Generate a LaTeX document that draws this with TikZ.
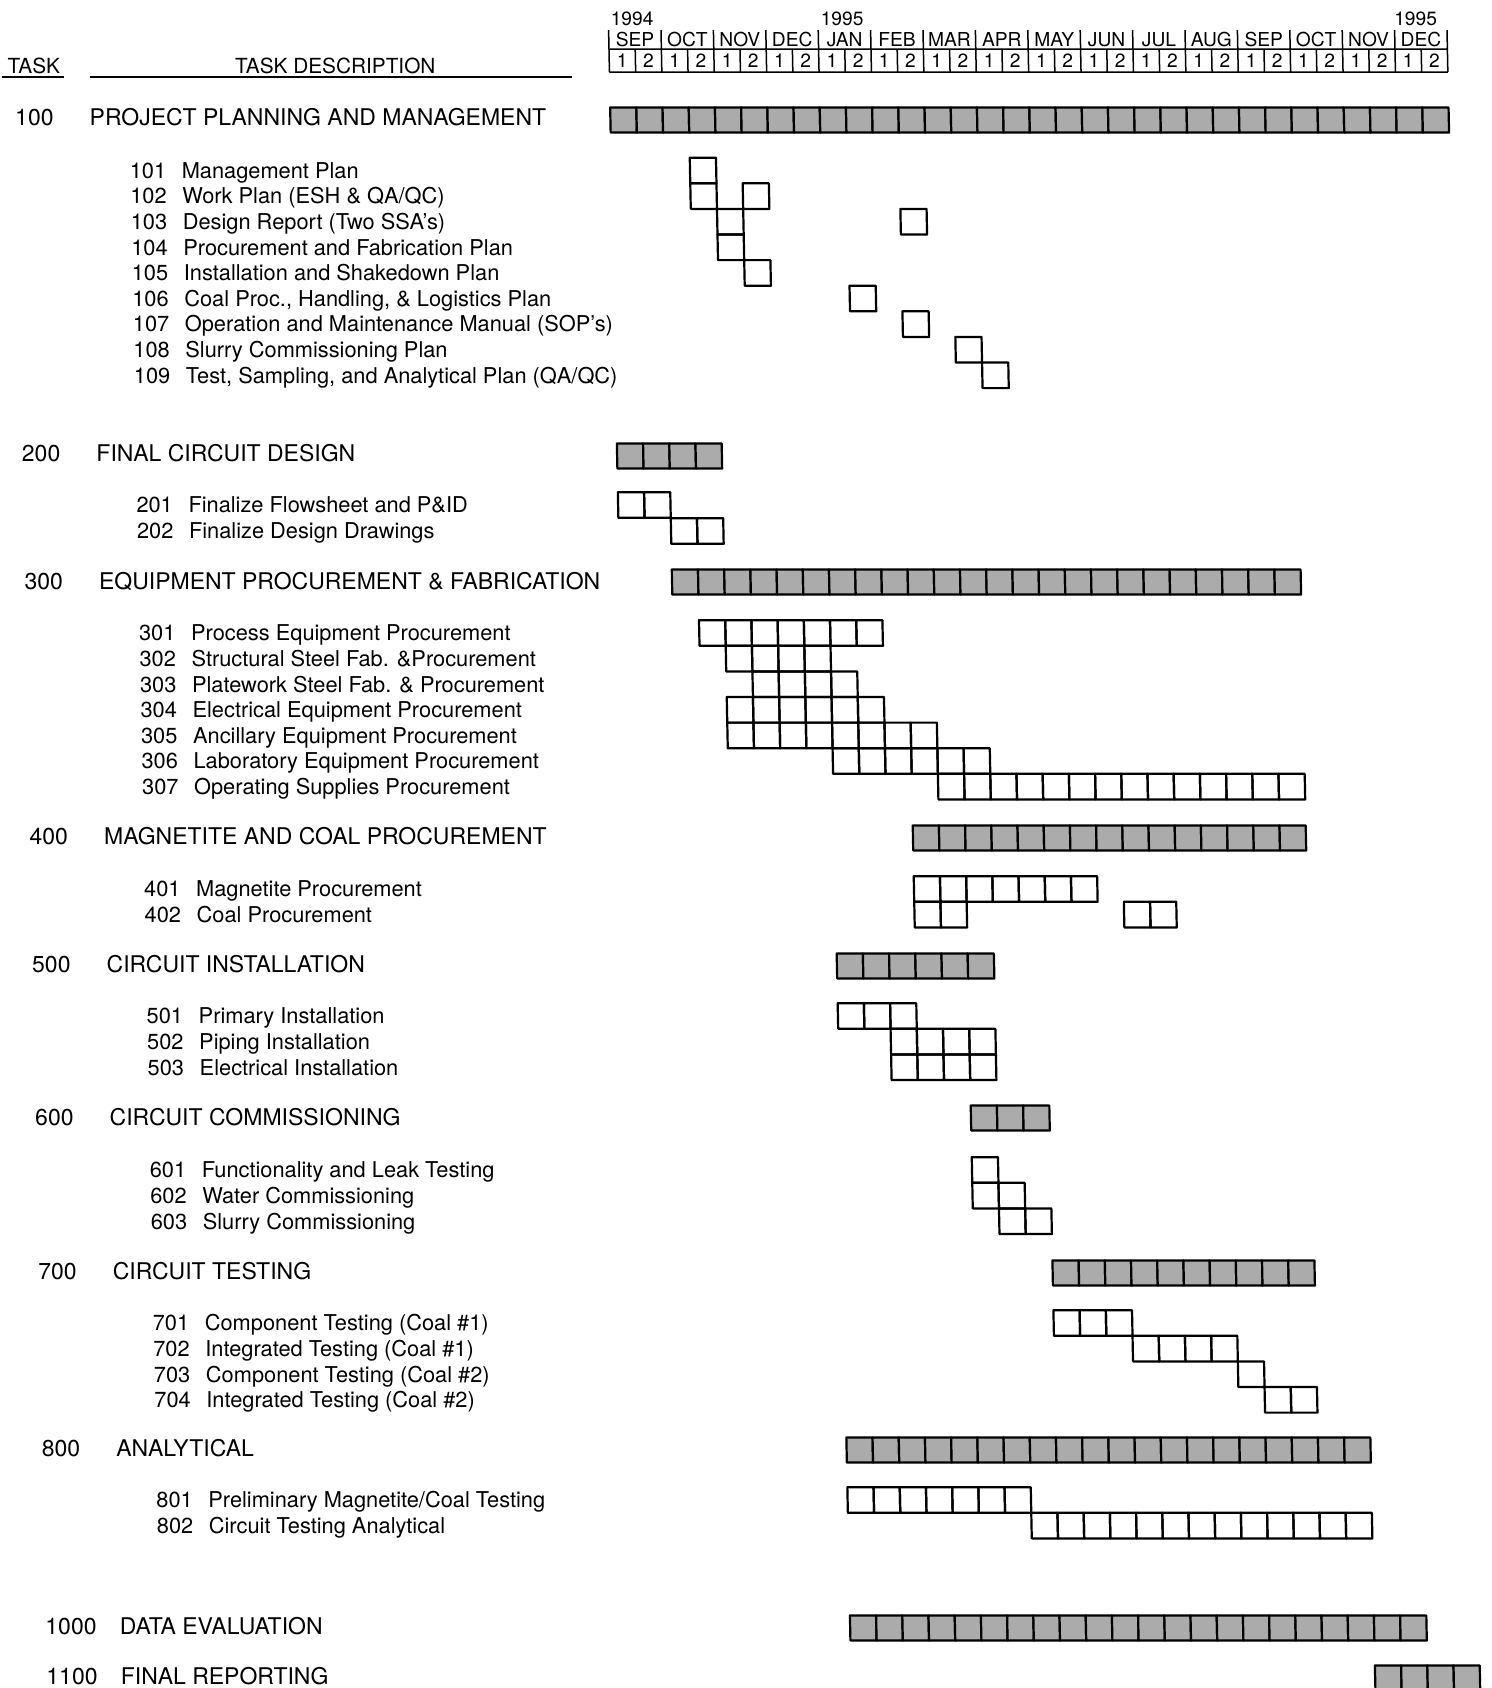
\documentclass[tikz,border=0pt]{standalone}
\usepackage{fontspec}
\setmainfont{TeX Gyre Heros}
\begin{document}
\begin{tikzpicture}[x=0.5pt,y=-0.5pt,anchor=base west,inner sep=0pt,
    cell/.style={draw,line width=1.1pt,line join=round},
    bar/.style={cell,fill=black!33},
    rule/.style={line width=.75pt},
    sec/.style={font=\fontsize{11.5}{13}\selectfont,yshift=-4.1pt},
    sub/.style={font=\fontsize{10.9}{13}\selectfont,yshift=-3.9pt},
    hdr/.style={font=\fontsize{10.4}{12}\selectfont,yshift=-3.7pt},
    mon/.style={anchor=base,font=\fontsize{9.6}{11}\selectfont,yshift=-3.4pt}]
  \useasboundingbox (0,0) rectangle (1492,1688);
  \begin{scope}[xslant=-0.02]
    % column heads
    \node[hdr] (T) at (6,66) {TASK};
    \node[hdr,anchor=base] (TD) at (334,66) {TASK DESCRIPTION};
    \draw[rule] (0,77) -- (62,77) (88,77) -- (570,77);
    % time scale, half months of 26.2
    \node[mon,anchor=base west] (Y1) at (610,19) {1994};
    \node[mon,anchor=base west] (Y2) at (820,19) {1995};
    \node[mon,anchor=base east] (Y3) at (1437,19) {1995};
    \foreach \m [count=\i from 0] in {SEP,OCT,NOV,DEC,JAN,FEB,MAR,APR,MAY,JUN,JUL,AUG,SEP,OCT,NOV,DEC} {
      \node[mon] (m\i) at ({634.2+52.4*\i},40) {\m};
      \node[mon] (a\i) at ({621.1+52.4*\i},61) {1};
      \node[mon] (b\i) at ({647.3+52.4*\i},61) {2};
      \draw[rule] ({608+52.4*\i},30) -- ++(0,42) ({634.2+52.4*\i},49) -- ++(0,23);
    }
    \draw[rule] (1446.4,30) -- ++(0,42) (608,49) -- (1446.4,49) (608,72) -- (1446.4,72);
    % summary bars
    \foreach \y/\a/\b in {120/0/31,456/0/3,582/2/25,838/11/25,966/8/13,1118/13/15,
        1273/16/25,1450/8/27,1628/8/29,1678/28/31}
      \foreach \c in {\a,...,\b}
        \draw[bar] ({608+26.2*\c},\y-12.5) rectangle ++(26.2,25);
    % task cells
    \foreach \y/\a/\b in {170.5/3/3,196.1/3/3,196.1/5/5,221.7/4/4,221.7/11/11,247.3/4/4,
        272.9/5/5,298.5/9/9,324.1/11/11,349.7/13/13,375.3/14/14,
        505/0/1,531/2/3,
        633/3/9,658.6/4/7,684.2/5/8,709.8/4/9,735.4/4/11,761/8/13,786.6/12/25,
        889/11/17,914.6/11/12,914.6/19/20,
        1016/8/10,1041.6/10/13,1067.2/10/13,
        1170/13/13,1195.6/13/14,1221.2/14/15,
        1323/16/18,1348.6/19/22,1374.2/23/23,1399.8/24/25,
        1500/8/14,1525.6/15/27}
      \foreach \c in {\a,...,\b}
        \draw[cell] ({608+26.2*\c},\y-12.8) rectangle ++(26.2,25.6);
    % task list
    \foreach \y/\n/\t in {117/100/PROJECT PLANNING AND MANAGEMENT,
        453/200/FINAL CIRCUIT DESIGN,
        581/300/{EQUIPMENT PROCUREMENT \& FABRICATION},
        836/400/MAGNETITE AND COAL PROCUREMENT,
        964/500/CIRCUIT INSTALLATION,
        1117/600/CIRCUIT COMMISSIONING,
        1271/700/CIRCUIT TESTING,
        1448/800/ANALYTICAL,
        1626/1000/DATA EVALUATION,
        1676/1100/FINAL REPORTING}
      \node[sec] (n\n) at (12.5,\y) {\n} node[sec] (d\n) at (87,\y) {\t};
    \foreach \y/\n/\t in {170.5/101/Management Plan,
        196.1/102/{Work Plan (ESH \& QA/QC)},
        221.7/103/{Design Report (Two SSA's)},
        247.3/104/Procurement and Fabrication Plan,
        272.9/105/Installation and Shakedown Plan,
        298.5/106/{Coal Proc., Handling, \& Logistics Plan},
        324.1/107/{Operation and Maintenance Manual (SOP's)},
        349.7/108/Slurry Commissioning Plan,
        375.3/109/{Test, Sampling, and Analytical Plan (QA/QC)},
        505/201/{Finalize Flowsheet and P\&ID},
        531/202/Finalize Design Drawings,
        633/301/Process Equipment Procurement,
        658.6/302/{Structural Steel Fab. \&Procurement},
        684.2/303/{Platework Steel Fab. \& Procurement},
        709.8/304/Electrical Equipment Procurement,
        735.4/305/Ancillary Equipment Procurement,
        761/306/Laboratory Equipment Procurement,
        786.6/307/Operating Supplies Procurement,
        889/401/Magnetite Procurement,
        914.6/402/Coal Procurement,
        1016/501/Primary Installation,
        1041.6/502/Piping Installation,
        1067.2/503/Electrical Installation,
        1170/601/Functionality and Leak Testing,
        1195.6/602/Water Commissioning,
        1221.2/603/Slurry Commissioning,
        1323/701/{Component Testing (Coal \#1)},
        1348.6/702/{Integrated Testing (Coal \#1)},
        1374.2/703/{Component Testing (Coal \#2)},
        1399.8/704/{Integrated Testing (Coal \#2)},
        1500/801/{Preliminary Magnetite/Coal Testing},
        1525.6/802/Circuit Testing Analytical}
      \node[sub] (n\n) at (126,\y) {\n} node[sub] (d\n) at (178,\y) {\t};
  \end{scope}
\end{tikzpicture}
\end{document}
